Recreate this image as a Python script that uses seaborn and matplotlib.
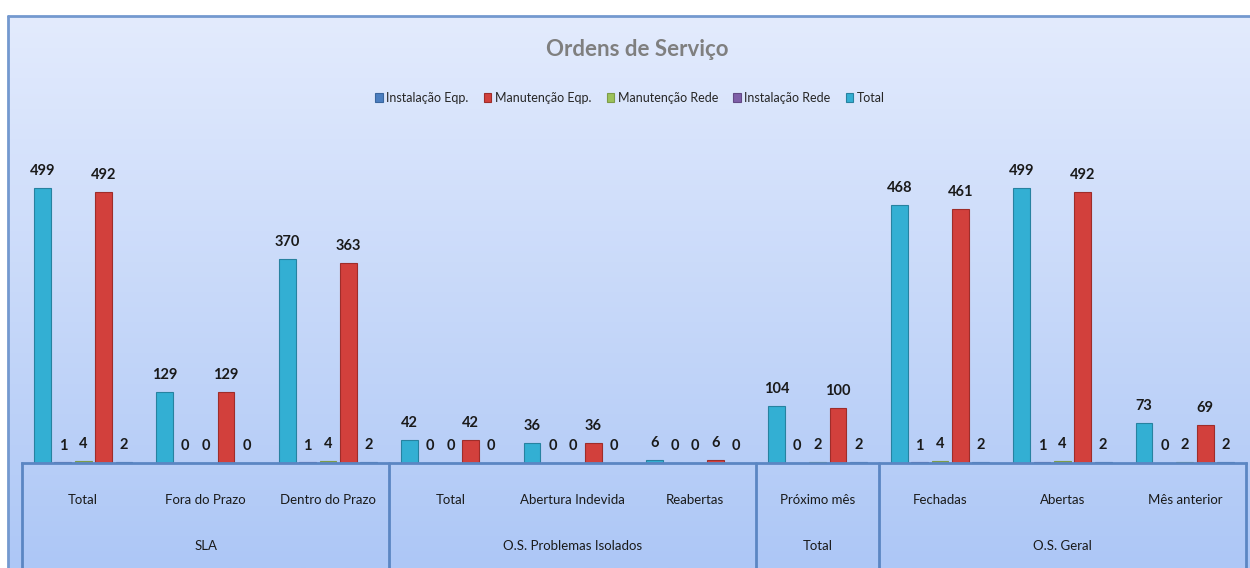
import numpy as np
import pandas as pd
import matplotlib
matplotlib.use("Agg")
import matplotlib.pyplot as plt
from matplotlib.colors import LinearSegmentedColormap
from matplotlib.patches import Patch
from matplotlib.lines import Line2D
import seaborn as sns

grupos = ["SLA", "O.S. Problemas Isolados", "Total", "O.S. Geral"]
tamanho_grupo = [3, 3, 1, 3]
categorias = ["Total", "Fora do Prazo", "Dentro do Prazo",
              "Total", "Abertura Indevida", "Reabertas",
              "Próximo mês",
              "Fechadas", "Abertas", "Mês anterior"]

total = [499, 129, 370, 42, 36, 6, 104, 468, 499, 73]
instalacao_rede = [1, 0, 1, 0, 0, 0, 0, 1, 1, 0]
manutencao_rede = [4, 0, 4, 0, 0, 0, 2, 4, 4, 2]
manutencao_eqp = [492, 129, 363, 42, 36, 6, 100, 461, 492, 69]
instalacao_eqp = [2, 0, 2, 0, 0, 0, 2, 2, 2, 2]

series = {
    "Total": total,
    "Instalação Rede": instalacao_rede,
    "Manutenção Rede": manutencao_rede,
    "Manutenção Eqp.": manutencao_eqp,
    "Instalação Eqp.": instalacao_eqp,
}
cores = {
    "Instalação Eqp.": "#4a7ec0",
    "Manutenção Eqp.": "#d2403c",
    "Manutenção Rede": "#9cc25a",
    "Instalação Rede": "#7f5fa8",
    "Total": "#33afd3",
}
bordas = {
    "Instalação Eqp.": "#3a669e",
    "Manutenção Eqp.": "#9e2d2a",
    "Manutenção Rede": "#7d9c48",
    "Instalação Rede": "#634a85",
    "Total": "#2782a0",
}
ordem_legenda = ["Instalação Eqp.", "Manutenção Eqp.", "Manutenção Rede",
                 "Instalação Rede", "Total"]

ids = [f"{i}_{c}" for i, c in enumerate(categorias)]
linhas = []
for nome, vals in series.items():
    for cid, v in zip(ids, vals):
        linhas.append({"cat": cid, "serie": nome, "valor": v})
df = pd.DataFrame(linhas)

sns.set_style("white")
plt.rcParams["font.family"] = ["Lato", "DejaVu Sans"]

W, H = 1250, 568
fig = plt.figure(figsize=(W / 100, H / 100), dpi=100)
fig.patch.set_facecolor("white")

# fundo em degradê com borda
bg = fig.add_axes([8 / W, 0, 1 - 8 / W, (H - 16) / H])
grad = LinearSegmentedColormap.from_list("bg", ["#e3ebfd", "#adc7f6"])
bg.imshow(np.linspace(0, 1, 256).reshape(-1, 1), aspect="auto", cmap=grad,
          extent=[0, 1.01, 0, 1], origin="upper")
bg.set_xlim(0, 1)
bg.set_ylim(0, 1)
bg.axis("off")
borda = "#7499cf"
bg.add_line(Line2D([0, 1], [1, 1], color=borda, lw=2, clip_on=False))
bg.add_line(Line2D([0, 0], [0, 1], color=borda, lw=2, clip_on=False))

# área do gráfico
base_y = 463
topo_y = 130
ax = fig.add_axes([22 / W, (H - base_y) / H, (1246 - 22) / W, (base_y - topo_y) / H])
ax.patch.set_alpha(0)
escala = (463 - 188) / 499.0
ax.set_ylim(0, (base_y - topo_y) / escala)

sns.barplot(data=df, x="cat", y="valor", hue="serie", order=ids,
            hue_order=list(series.keys()), palette=cores, saturation=1,
            width=0.833, gap=0.17, linewidth=0, legend=False, ax=ax)
ax.set_xlim(-0.5, len(categorias) - 0.5)

for nome, cont in zip(series.keys(), ax.containers):
    for barra in cont:
        barra.set_edgecolor(bordas[nome])
        barra.set_linewidth(0.8)
    ax.bar_label(cont, fmt="%d", padding=7, fontsize=10.5, fontweight="bold",
                 color="#1a1a1a")

for s in ["top", "right", "left"]:
    ax.spines[s].set_visible(False)
ax.spines["bottom"].set_color("#5b86c3")
ax.spines["bottom"].set_linewidth(2)
ax.set_yticks([])
ax.set_xlabel("")
ax.set_ylabel("")
ax.set_xticks(range(len(categorias)))
ax.set_xticklabels(categorias, fontsize=9.5, color="#1a1a1a")
ax.tick_params(axis="x", length=0, pad=22)

# separadores e rótulos dos grupos
altura_ax = base_y - topo_y
fundo = -(H - base_y + 5) / altura_ax
limites = np.concatenate([[0], np.cumsum(tamanho_grupo)]) - 0.5
for xb in limites:
    ax.plot([xb, xb], [0, fundo], transform=ax.get_xaxis_transform(),
            color="#5b86c3", lw=2, clip_on=False)
for g, a, b in zip(grupos, limites[:-1], limites[1:]):
    ax.text((a + b) / 2, -(546 - base_y) / altura_ax, g, ha="center", va="center",
            fontsize=9.5, color="#1a1a1a", transform=ax.get_xaxis_transform())

fig.text(637 / W, 1 - 50 / H, "Ordens de Serviço", ha="center", va="center",
         fontsize=16, fontweight="bold", color="#7f7f7f")

handles = [Patch(facecolor=cores[n], edgecolor=bordas[n], linewidth=0.8)
           for n in ordem_legenda]
fig.legend(handles, ordem_legenda, loc="center", bbox_to_anchor=(630 / W, 1 - 98 / H),
           ncol=5, frameon=False, fontsize=9, handlelength=0.6, handleheight=0.8,
           handletextpad=0.3, columnspacing=1.2)

fig.savefig("out.png", dpi=100)
